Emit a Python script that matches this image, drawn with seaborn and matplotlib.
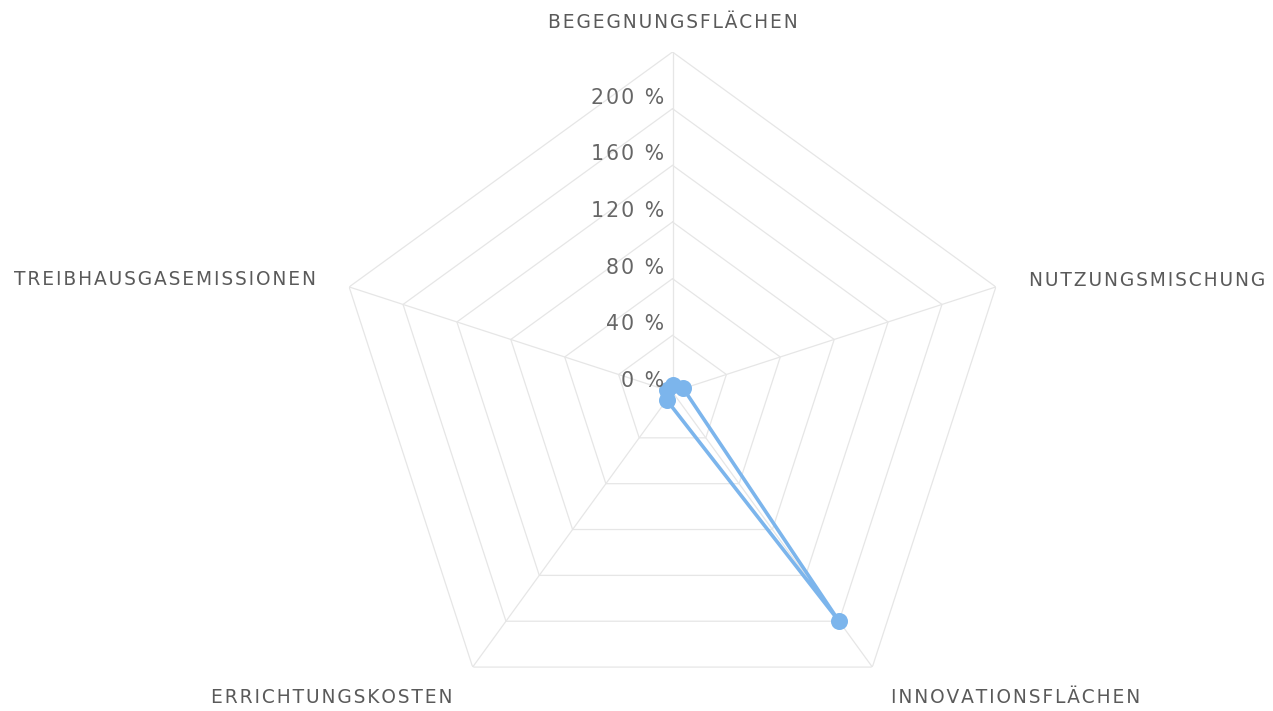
import numpy as np
import pandas as pd
import matplotlib
matplotlib.use("Agg")
import matplotlib.pyplot as plt
import seaborn as sns

# ---- data ----
categories = ["BEGEGNUNGSFLÄCHEN", "NUTZUNGSMISCHUNG", "INNOVATIONSFLÄCHEN",
              "ERRICHTUNGSKOSTEN", "TREIBHAUSGASEMISSIONEN"]
values = [5, 8, 200, 7, 4]
tick_values = [0, 40, 80, 120, 160, 200]
tick_labels = ["0 %", "40 %", "80 %", "120 %", "160 %", "200 %"]
r_max = 240

sns.set_theme(style="white")
plt.rcParams["font.family"] = ["DejaVu Sans"]

W, H = 1273, 711
fig = plt.figure(figsize=(W / 100, H / 100), dpi=100)
cx, cy, R = 672.5, 392, 340
ax = fig.add_axes([(cx - R) / W, (H - cy - R) / H, 2 * R / W, 2 * R / H], projection="polar")
ax.set_theta_offset(np.pi / 2)
ax.set_theta_direction(-1)
ax.set_ylim(0, r_max)
ax.grid(False)
ax.set_xticks([])
ax.set_yticks([])
ax.spines["polar"].set_visible(False)
ax.patch.set_alpha(0)

n = len(categories)
theta = np.arange(n) * 2 * np.pi / n
theta_closed = np.append(theta, 2 * np.pi)

grid_col = "#e6e6e6"
# polygonal rings
for r in tick_values[1:] + [r_max]:
    ax.plot(theta_closed, [r] * (n + 1), color=grid_col, lw=0.9, zorder=1)
# spokes
for t in theta:
    ax.plot([t, t], [0, r_max], color=grid_col, lw=0.9, zorder=1)

# data series
df = pd.DataFrame({"theta": theta_closed, "value": values + [values[0]]})
line_col = "#7cb5ec"
sns.lineplot(data=df, x="theta", y="value", sort=False, estimator=None, ax=ax,
             color=line_col, lw=2.6, zorder=3)
sns.scatterplot(data=df.iloc[:-1], x="theta", y="value", ax=ax, color=line_col,
                s=150, linewidth=0, zorder=4)
ax.set_xlabel("")
ax.set_ylabel("")


def spaced(s, sp="\u200a"):
    return sp.join(s)


# radial tick labels
for v, lab in zip(tick_values, tick_labels):
    ax.annotate(spaced(lab), xy=(0, v), xytext=(-8, 11), textcoords="offset pixels",
                ha="right", va="center", fontsize=14.8, color="#666666", zorder=5)

# category labels
offsets = [(0, 30, "center"), (33, 6, "left"), (19, -30, "left"),
           (-20, -30, "right"), (-33, 7, "right")]
for t, lab, (dx, dy, ha) in zip(theta, categories, offsets):
    ax.annotate(spaced(lab), xy=(t, r_max), xytext=(dx, dy), textcoords="offset pixels",
                ha=ha, va="center", fontsize=13.4, color="#5a5a5a",
                annotation_clip=False)

fig.savefig("out.png", dpi=100)
